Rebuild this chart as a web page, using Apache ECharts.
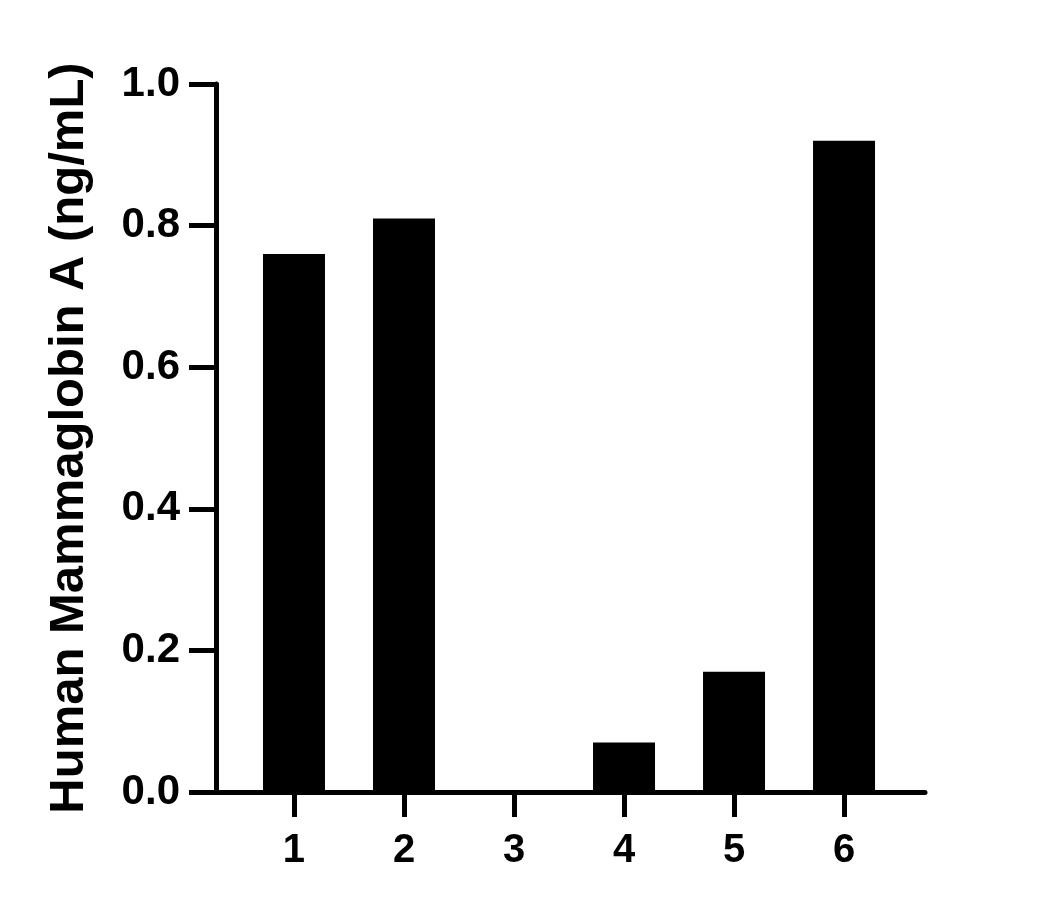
<!DOCTYPE html>
<html>
<head>
<meta charset="utf-8">
<script src="https://cdn.jsdelivr.net/npm/echarts@6/dist/echarts.min.js"></script>
<style>
html,body{margin:0;padding:0;background:#fff;}
#chart{width:1057px;height:910px;}
</style>
</head>
<body>
<div id="chart"></div>
<script>
const categories = ['1', '2', '3', '4', '5', '6'];
const values = [0.76, 0.81, 0, 0.07, 0.17, 0.92];
const yTicks = [0, 0.2, 0.4, 0.6, 0.8, 1.0];
const yTitle = 'Human Mammaglobin A (ng/mL)';

const positions = categories.map((c, i) => i + 1);
const data = values.map((v, i) => [positions[i], v]);
const FONT = "'Liberation Sans', Arial, sans-serif";

const chart = echarts.init(document.getElementById('chart'), null, {renderer: 'canvas'});
chart.setOption({
  animation: false,
  backgroundColor: '#fff',
  grid: {left: 216, right: 132, top: 84, bottom: 118, containLabel: false},
  xAxis: {
    type: 'value',
    min: 0.291,
    max: 6.736,
    splitLine: {show: false},
    axisLine: {show: true, onZero: false, lineStyle: {color: '#000', width: 5}},
    axisTick: {show: true, inside: false, customValues: positions, length: 25, lineStyle: {color: '#000', width: 5}},
    axisLabel: {
      show: true,
      customValues: positions,
      formatter: v => categories[Math.round(v) - 1] || '',
      color: '#000', fontSize: 40, fontWeight: 'bold', fontFamily: FONT, margin: 39
    }
  },
  yAxis: {
    type: 'value',
    min: yTicks[0],
    max: yTicks[yTicks.length - 1],
    interval: 0.2,
    name: yTitle,
    nameLocation: 'middle',
    nameGap: 122,
    nameTextStyle: {color: '#000', fontSize: 49, fontWeight: 'bold', fontFamily: FONT},
    splitLine: {show: false},
    axisLine: {show: true, lineStyle: {color: '#000', width: 5}},
    axisTick: {show: true, inside: false, length: 27, lineStyle: {color: '#000', width: 5}},
    axisLabel: {
      formatter: v => v.toFixed(1),
      color: '#000', fontSize: 42, fontWeight: 'bold', fontFamily: FONT, margin: 36
    }
  },
  series: [{
    type: 'bar',
    data: data,
    barWidth: 62,
    itemStyle: {color: '#000'}
  }]
});
</script>
</body>
</html>
